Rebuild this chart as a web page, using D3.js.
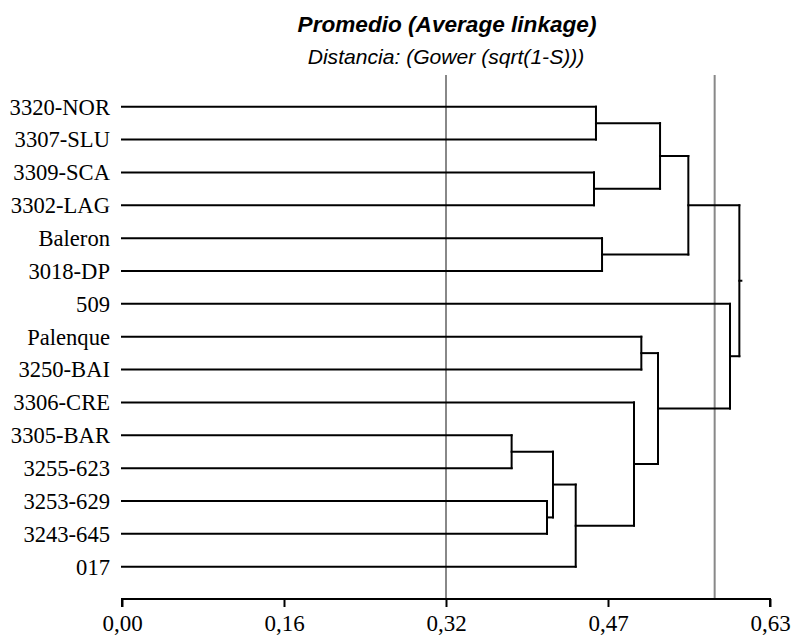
<!DOCTYPE html>
<html>
<head>
<meta charset="utf-8">
<script src="https://cdn.jsdelivr.net/npm/d3@7"></script>
<style>
  html, body { margin: 0; padding: 0; background: #fff; }
  svg { display: block; }
</style>
</head>
<body>
<svg id="chart" width="791" height="635"></svg>
<script>
// ---- Data ----
const leaves = ["3320-NOR","3307-SLU","3309-SCA","3302-LAG","Baleron","3018-DP","509",
  "Palenque","3250-BAI","3306-CRE","3305-BAR","3255-623","3253-629","3243-645","017"];
// merges: [left, right, height]; leaf ids 0..14, merged cluster ids 15..
const mergeLeft   = [0, 2, 4, 15, 18, 7, 10, 12, 21, 23, 9, 20, 6, 19];
const mergeRight  = [1, 3, 5, 16, 17, 8, 11, 13, 22, 14, 24, 25, 26, 27];
const mergeHeight = [0.4608, 0.4589, 0.4667, 0.5231, 0.5506, 0.5049, 0.3788, 0.4132,
  0.4190, 0.4411, 0.4978, 0.5211, 0.5911, 0.6002];
const cutLines = [0.315, 0.5762];
const tickValues = [0, 0.1575, 0.315, 0.4725, 0.63];
const tickLabels = ["0,00", "0,16", "0,32", "0,47", "0,63"];
const title = "Promedio (Average linkage)";
const subtitle = "Distancia: (Gower (sqrt(1-S)))";

// ---- Layout ----
const svg = d3.select("#chart");
const x = d3.scaleLinear().domain([0, 0.63]).range([122, 770]);
const y = d3.scalePoint().domain(d3.range(leaves.length)).range([106.7, 566.7]);
const axisY = 599;

// node positions
const nodeY = [], nodeH = [];
leaves.forEach((l, i) => { nodeY[i] = y(i); nodeH[i] = 0; });
mergeLeft.forEach((l, k) => {
  const id = leaves.length + k, r = mergeRight[k];
  nodeY[id] = (nodeY[l] + nodeY[r]) / 2;
  nodeH[id] = mergeHeight[k];
});

// titles
svg.append("text").attr("x", 447).attr("y", 32)
  .attr("text-anchor", "middle")
  .style("font-family", "'Liberation Sans', Arial, sans-serif")
  .style("font-weight", "bold").style("font-style", "italic")
  .style("font-size", "22.6px").text(title);
svg.append("text").attr("x", 446).attr("y", 64)
  .attr("text-anchor", "middle")
  .style("font-family", "'Liberation Sans', Arial, sans-serif")
  .style("font-style", "italic")
  .style("font-size", "21.1px").text(subtitle);

// cut lines
svg.append("g").selectAll("line").data(cutLines).join("line")
  .attr("x1", d => x(d)).attr("x2", d => x(d))
  .attr("y1", 75).attr("y2", axisY)
  .attr("stroke", "#888").attr("stroke-width", 2);

// dendrogram
const g = svg.append("g").attr("stroke", "#000").attr("stroke-width", 2)
  .attr("fill", "none").attr("stroke-linecap", "square");
mergeLeft.forEach((l, k) => {
  const id = leaves.length + k, r = mergeRight[k], h = mergeHeight[k];
  [l, r].forEach(c => {
    g.append("line").attr("x1", x(nodeH[c])).attr("x2", x(h))
      .attr("y1", nodeY[c]).attr("y2", nodeY[c]);
  });
  g.append("line").attr("x1", x(h)).attr("x2", x(h))
    .attr("y1", nodeY[l]).attr("y2", nodeY[r]);
});
// root stub
const rootId = leaves.length + mergeLeft.length - 1;
g.append("line").attr("x1", x(nodeH[rootId])).attr("x2", x(nodeH[rootId]) + 2)
  .attr("y1", nodeY[rootId]).attr("y2", nodeY[rootId]);

// leaf labels
svg.append("g").selectAll("text").data(leaves).join("text")
  .attr("x", 110).attr("y", (d, i) => y(i)).attr("dy", "0.35em")
  .attr("text-anchor", "end")
  .style("font-family", "'Liberation Serif', 'Times New Roman', serif")
  .style("font-size", "22.6px").text(d => d);

// axis
const axis = d3.axisBottom(x).tickValues(tickValues)
  .tickFormat((d, i) => tickLabels[i]).tickSize(8).tickPadding(8);
const ax = svg.append("g").attr("transform", `translate(0,${axisY})`).call(axis);
ax.select(".domain").attr("stroke", "#000").attr("stroke-width", 2)
  .attr("d", `M${x(0)},8V0H${x(0.63)}V8`);
ax.selectAll(".tick line").attr("stroke", "#000").attr("stroke-width", 2);
ax.selectAll(".tick text")
  .style("font-family", "'Liberation Serif', 'Times New Roman', serif")
  .style("font-size", "23px").attr("fill", "#000");
</script>
</body>
</html>
